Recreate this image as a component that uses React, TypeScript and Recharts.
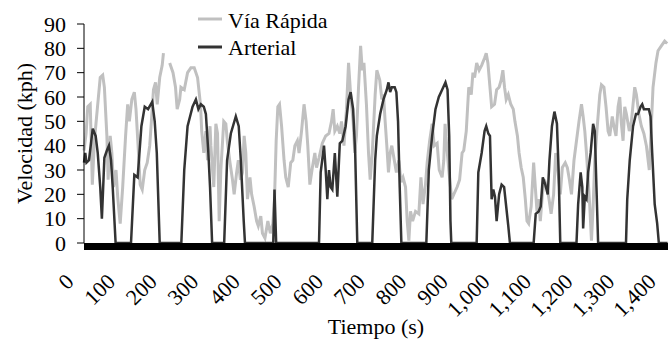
import { LineChart, Line, XAxis, YAxis, Legend } from "recharts";

// Vía Rápida: time (s) and speed (kph)
const rapidaT = [
  0, 5, 9, 15, 20, 25, 33, 39, 45, 49, 55, 58, 63, 67, 71, 77, 81, 87, 93, 100,
  105, 109, 115, 121, 125, 130, 135, 140, 146, 152, 158, 162, 167, 172, 176, 182, 188, 191, 198, 206,
  214, 220, 224, 230, 233, 241, 249, 257, 265, 273, 280, 283, 288, 293, 297, 303, 305, 312, 317, 321,
  325, 329, 336, 341, 345, 351, 357, 361, 367, 371, 376, 381, 385, 389, 393, 399, 403, 409, 415, 419,
  425, 429, 435, 442, 448, 454, 458, 462, 466, 470, 475, 481, 485, 491, 497, 502, 507, 513, 517, 523,
  529, 534, 538, 543, 549, 555, 559, 565, 573, 581, 589, 595, 599, 603, 609, 615, 619, 625, 631, 636,
  641, 647, 651, 655, 660, 665, 669, 673, 679, 684, 688, 693, 700, 704, 711, 716, 720, 724, 728, 732,
  736, 740, 746, 751, 757, 762, 767, 773, 777, 781, 785, 790, 797, 805, 810, 815, 821, 825, 831, 837,
  842, 849, 854, 861, 865, 868, 872, 877, 884, 889, 897, 903, 909, 913, 919, 925, 931, 935, 939, 944,
  950, 956, 963, 967, 971, 976, 980, 987, 992, 998, 1003, 1007, 1011, 1015, 1020, 1026, 1032, 1036, 1042, 1046,
  1051, 1056, 1061, 1065, 1069, 1075, 1081, 1085, 1089, 1093, 1097, 1102, 1107, 1113, 1118, 1123, 1129, 1134, 1139, 1145,
  1150, 1157, 1162, 1167, 1172, 1178, 1184, 1190, 1196, 1200, 1204, 1208, 1212, 1216, 1220, 1224, 1228, 1234, 1240, 1244,
  1250, 1255, 1260, 1264, 1270, 1274, 1279, 1284, 1288, 1292, 1296, 1300, 1304, 1311, 1316, 1320, 1324, 1328, 1334, 1340,
  1346, 1352, 1359, 1363, 1368, 1375, 1380, 1388, 1396, 1402,
];
const rapidaV = [
  38, 45, 56, 57, 24, 42, 57, 68, 69, 64, 44, 26, 44, 37, 23, 30, 19, 8, 23, 44,
  57, 50, 59, 62, 55, 40, 24, 22, 30, 33, 40, 50, 63, 66, 57, 68, 73, 78, null, 74,
  70, 64, 55, 59, 64, 63, 70, 72, 72, 68, 57, 46, 37, 46, 34, 48, 40, 23, 49, 45,
  9, 30, 50, 49, 41, 33, 26, 20, 29, 34, 26, 29, 44, 37, 18, 27, 20, 15, 9, 7,
  11, 4, 2, 9, 4, 8, 18, 42, 56, 57, 48, 34, 27, 23, 33, 34, 40, 42, 37, 46,
  57, 50, 40, 24, 31, 37, 31, 35, 41, 44, 45, 50, 55, 46, 48, 45, 50, 40, 55, 74,
  61, 50, 37, 44, 64, 81, 71, 74, 57, 37, 26, 37, 61, 71, 67, 59, 61, 50, 40, 29,
  37, 40, 34, 29, 34, 25, 27, 23, 9, 1, 13, 9, 13, 12, 27, 16, 24, 33, 42, 49,
  40, 41, 30, 27, 34, 49, 40, 30, 18, 20, 23, 26, 37, 38, 46, 64, 61, 70, 68, 74,
  71, 73, 76, 78, 74, 64, 56, 57, 63, 64, 67, 71, 64, 59, 61, 57, 55, 50, 44, 37,
  31, 27, 18, 9, 8, 15, 33, 23, 13, 18, 9, 20, 26, 23, 18, 12, 20, 37, 30, 20,
  31, 33, 31, 26, 20, 34, 42, 50, 57, 52, 46, 37, 26, 15, 1, 15, 34, 48, 61, 65,
  64, 56, 46, 44, 52, 48, 44, 56, 60, 49, 42, 56, 53, 46, 50, 57, 64, 61, 53, 48,
  45, 40, 30, 45, 64, 74, 79, 81, 83, 82,
];

// Arterial: time (s) and speed (kph)
const arterialT = [
  0, 3, 6, 12, 21, 28, 33, 39, 43, 49, 55, 60, 65, 69, 76, 113, 121, 129, 138, 146,
  154, 164, 170, 175, 182, 234, 241, 249, 261, 269, 275, 281, 288, 293, 299, 303, 308, 337, 344, 353,
  365, 372, 377, 384, 387, 455, 458, 462, 565, 569, 577, 581, 585, 589, 593, 597, 603, 609, 615, 621,
  629, 636, 641, 647, 652, 657, 693, 700, 704, 712, 720, 728, 732, 736, 740, 747, 751, 755, 759, 763,
  823, 829, 837, 845, 853, 861, 869, 874, 878, 881, 883, 944, 948, 956, 963, 967, 972, 976, 980, 984,
  988, 992, 998, 1004, 1010, 1015, 1020, 1024, 1081, 1086, 1093, 1098, 1103, 1109, 1115, 1119, 1125, 1131, 1137, 1141,
  1145, 1184, 1188, 1194, 1198, 1200, 1204, 1208, 1212, 1218, 1224, 1228, 1232, 1236, 1303, 1306, 1312, 1320, 1327, 1332,
  1338, 1342, 1346, 1352, 1358, 1362, 1366, 1372, 1378, 1382, 1403,
];
const arterialV = [
  33, 37, 33, 34, 47, 44, 37, 23, 10, 35, 38, 40, 34, 23, 0, 0, 28, 27, 48, 56,
  55, 58, 50, 37, 0, 0, 30, 48, 56, 59, 55, 57, 56, 53, 37, 23, 0, 0, 34, 45,
  52, 48, 34, 9, 0, 0, 22, 0, 0, 29, 40, 30, 18, 30, 23, 22, 37, 19, 41, 42,
  48, 59, 62, 55, 37, 0, 0, 34, 44, 53, 59, 63, 66, 62, 64, 64, 62, 50, 23, 0,
  0, 30, 44, 55, 60, 63, 66, 63, 44, 9, 0, 0, 29, 37, 46, 48, 45, 44, 18, 22,
  19, 9, 20, 24, 23, 15, 7, 0, 0, 12, 13, 15, 27, 24, 20, 34, 48, 54, 49, 30,
  0, 0, 16, 29, 23, 6, 19, 18, 29, 37, 49, 46, 23, 0, 0, 18, 34, 48, 53, 53,
  56, 57, 55, 55, 55, 52, 37, 16, 8, 0, 0,
];

const xTicks = [0, 100, 200, 300, 400, 500, 600, 700, 800, 900, 1000, 1100, 1200, 1300, 1400];
const yTicks = [0, 10, 20, 30, 40, 50, 60, 70, 80, 90];

const rapidaData = rapidaT.map((t, i) => ({ t, v: rapidaV[i] }));
const arterialData = arterialT.map((t, i) => ({ t, v: arterialV[i] }));

const FONT = "Liberation Serif, DejaVu Serif, serif";
const GRAY = "#c0c0c0";
const DARK = "#333333";

function XTick(props: any) {
  const { x, y, payload } = props;
  const ax = x - 9;
  const ay = y + 40;
  return (
    <text
      x={ax}
      y={ay}
      textAnchor="end"
      transform={`rotate(-45, ${ax}, ${ay})`}
      style={{ fontFamily: FONT, fontSize: 22 }}
      fill="#000"
    >
      {payload.value.toLocaleString("en-US")}
    </text>
  );
}

function YTitle(props: any) {
  const { viewBox } = props;
  const cx = 24;
  const cy = viewBox.y + viewBox.height / 2;
  return (
    <text
      x={cx}
      y={cy}
      textAnchor="middle"
      dominantBaseline="central"
      transform={`rotate(-90, ${cx}, ${cy})`}
      style={{ fontFamily: FONT, fontSize: 22 }}
      fill="#000"
    >
      Velocidad (kph)
    </text>
  );
}

function XTitle(props: any) {
  const { viewBox } = props;
  return (
    <text
      x={viewBox.x + viewBox.width / 2}
      y={334}
      textAnchor="middle"
      style={{ fontFamily: FONT, fontSize: 22 }}
      fill="#000"
    >
      Tiempo (s)
    </text>
  );
}

function LegendBox() {
  const items = [
    { name: "Vía Rápida", color: GRAY },
    { name: "Arterial", color: DARK },
  ];
  return (
    <svg width={150} height={60}>
      {items.map((it, i) => (
        <g key={it.name}>
          <line x1={2} x2={26} y1={15 + i * 28} y2={15 + i * 28} stroke={it.color} strokeWidth={3} />
          <text x={32} y={24 + i * 27} style={{ fontFamily: FONT, fontSize: 22 }} fill="#000">
            {it.name}
          </text>
        </g>
      ))}
    </svg>
  );
}

export default function App() {
  return (
    <div style={{ position: "absolute", left: 0, top: 0, background: "#fff", fontFamily: FONT }}>
      <LineChart
        width={672}
        height={343}
        margin={{ top: 24, right: 4, left: 0, bottom: 0 }}
        style={{ fontFamily: FONT }}
      >
        <XAxis
          type="number"
          dataKey="t"
          domain={[0, 1404]}
          ticks={xTicks}
          interval={0}
          height={100}
          tickSize={0}
          tickMargin={0}
          tickLine={false}
          axisLine={{ stroke: "#000", strokeWidth: 7, transform: "translate(0,3.5)" }}
          tick={<XTick />}
          label={<XTitle />}
        />
        <YAxis
          type="number"
          domain={[0, 90]}
          ticks={yTicks}
          interval={0}
          width={84}
          tickSize={7}
          tickMargin={11}
          axisLine={{ stroke: "#000" }}
          tickLine={{ stroke: "#000" }}
          tick={{ fill: "#000", fontSize: 22, style: { fontFamily: FONT } }}
          label={<YTitle />}
        />
        <Legend
          layout="horizontal"
          verticalAlign="middle"
          align="center"
          wrapperStyle={{ left: 196, top: 4, width: 150, height: 60 }}
          content={<LegendBox />}
        />
        <Line
          data={rapidaData}
          dataKey="v"
          name="Vía Rápida"
          type="linear"
          stroke={GRAY}
          strokeWidth={3}
          dot={false}
          isAnimationActive={false}
        />
        <Line
          data={arterialData}
          dataKey="v"
          name="Arterial"
          type="linear"
          stroke={DARK}
          strokeWidth={2.5}
          dot={false}
          isAnimationActive={false}
        />
      </LineChart>
    </div>
  );
}
